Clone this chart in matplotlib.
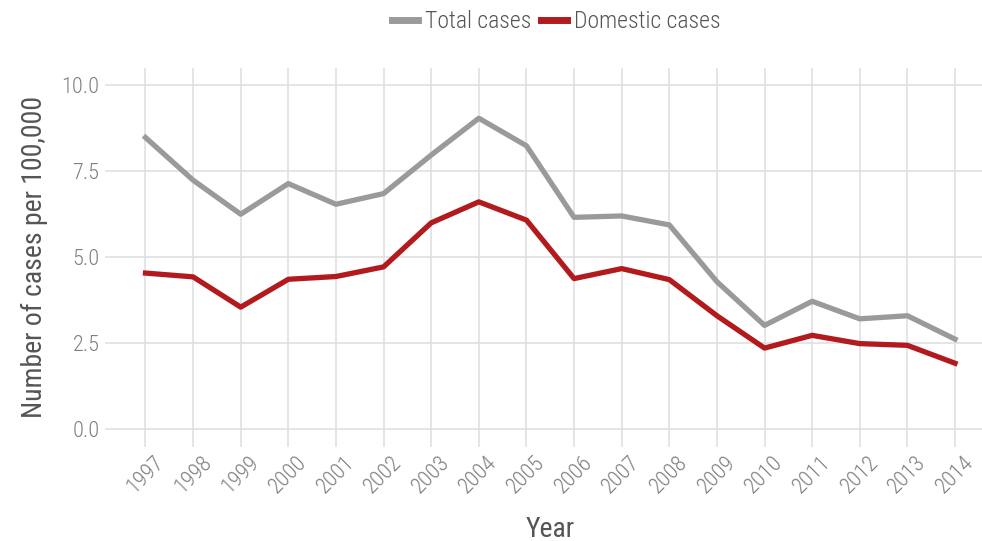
import matplotlib
matplotlib.use('Agg')
import matplotlib.pyplot as plt
from matplotlib import font_manager

years = list(range(1997, 2015))
total_cases = [8.48, 7.24, 6.25, 7.14, 6.54, 6.85, 7.97, 9.04, 8.24,
               6.16, 6.20, 5.94, 4.29, 3.02, 3.72, 3.21, 3.30, 2.62]
domestic_cases = [4.54, 4.43, 3.55, 4.36, 4.44, 4.72, 6.00, 6.61, 6.08,
                  4.38, 4.67, 4.35, 3.30, 2.36, 2.73, 2.49, 2.44, 1.92]
y_ticks = [0.0, 2.5, 5.0, 7.5, 10.0]

# condensed font if there is one
names = {f.name for f in font_manager.fontManager.ttflist}
cond = [n for n in ['Roboto Condensed', 'Archivo Narrow', 'Barlow Condensed', 'Asap Condensed'] if n in names]
plt.rcParams['font.family'] = cond[:1] + ['DejaVu Sans']
plt.rcParams['font.weight'] = 'light'

fig = plt.figure(figsize=(9.82, 5.41), dpi=100, facecolor='w')
ax = fig.add_axes([105 / 982, 94.5 / 541, 890.5 / 982, 378.5 / 541])

ax.plot(years, total_cases, color='#9a9a9a', lw=3.8, label='Total cases')
ax.plot(years, domestic_cases, color='#b21a1d', lw=3.8, label='Domestic cases')

ax.set_xlim(1997 - 0.85, 2014 + 0.85)
ax.set_ylim(-0.5, 10.5)
ax.set_xticks(years)
ax.set_yticks(y_ticks)
ax.set_yticklabels(['%.1f' % v for v in y_ticks])
ax.grid(True, color='#e0e0e0', lw=1.2)
ax.set_axisbelow(True)
for s in ax.spines.values():
    s.set_visible(False)
ax.tick_params(length=0, labelsize=16, colors='#7f7f7f', pad=4)
plt.setp(ax.get_xticklabels(), rotation=45, ha='center', va='top')

ax.set_xlabel('Year', fontsize=20, color='#555555', labelpad=13)
ax.set_ylabel('Number of cases per 100,000', fontsize=20, color='#555555', labelpad=10)

leg = fig.legend(loc='center', bbox_to_anchor=(556 / 982, 1 - 22 / 541), ncol=2, frameon=False,
                 fontsize=17, labelcolor='#555555', handlelength=1.1, handletextpad=0.3, columnspacing=0.4)
for h in leg.legend_handles:
    h.set_linewidth(5)

fig.savefig('out.png', dpi=100)
